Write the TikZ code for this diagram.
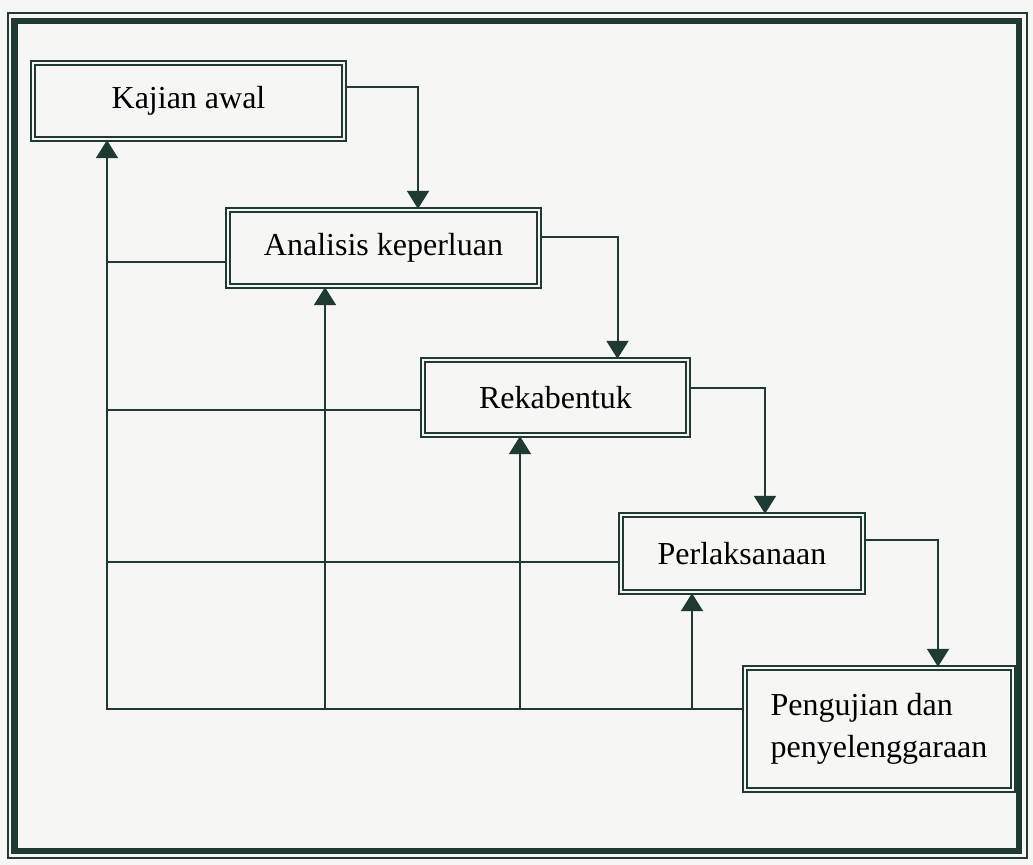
\documentclass[tikz,border=0pt]{standalone}
\usepackage{fontspec}
\setmainfont{Liberation Serif}
\usepackage{tikz}
\usetikzlibrary{arrows.meta,positioning,calc}
\definecolor{LineDark}{HTML}{1E3A33}
\definecolor{PaperBg}{HTML}{F6F6F4}
\tikzset{
  % Base box
  FB/.style={rectangle,draw=LineDark,line width=1.2pt,
             double=PaperBg,double distance=0.9pt,
             text centered,align=center,inner sep=4pt,
             font=\fontsize{16}{21}\selectfont},
  % Arrow
  arr/.style={-{Triangle[length=9pt,width=11pt]},line width=1pt,draw=LineDark},
  % Plain line
  ln/.style={line width=1pt,draw=LineDark}
}

\begin{document}
\begin{tikzpicture}[x=0.5pt,y=-0.5pt]
  \useasboundingbox[fill=PaperBg] (0,0) rectangle (1033,865);
  % frame
  \draw[LineDark,line width=0.7pt] (8,13) rectangle (1027,858);
  \draw[LineDark,line width=3.2pt] (14.5,21) rectangle (1019,851);
  % phases
  \node[FB,minimum width=155.5pt,minimum height=38pt] (kajian)   at (188.5,101)  {Kajian awal};
  \node[FB,minimum width=155.5pt,minimum height=38pt] (analisis) at (383.5,248)  {Analisis keperluan};
  \node[FB,minimum width=132.5pt,minimum height=37.5pt] (reka)   at (555.5,397.5) {Rekabentuk};
  \node[FB,minimum width=121pt,minimum height=38.5pt] (laksana)  at (742,553.5)  {Perlaksanaan};
  \node[FB,minimum width=134pt,minimum height=61pt,align=left] (uji) at (879,729)
       {Pengujian dan\\penyelenggaraan};
  % forward flow
  \draw[arr] ([yshift=7pt]kajian.east)    -| ([xshift=17.25pt]analisis.north);
  \draw[arr] ([yshift=5.5pt]analisis.east) -| ([xshift=31pt]reka.north);
  \draw[arr] ([yshift=4.75pt]reka.east)    -| ([xshift=11.5pt]laksana.north);
  \draw[arr] ([yshift=6.75pt]laksana.east) -| ([xshift=29.5pt]uji.north);
  % feedback
  \coordinate (trunk) at ([xshift=-40.75pt]kajian.south);
  \coordinate (base)  at ([yshift=10pt]uji.west);
  \coordinate (fa) at ([yshift=-7pt]analisis.west);
  \coordinate (fr) at ([yshift=-6.25pt]reka.west);
  \coordinate (fl) at ([yshift=-4.25pt]laksana.west);
  \coordinate (ua) at ([xshift=-29.25pt]analisis.south);
  \coordinate (ur) at ([xshift=-17.75pt]reka.south);
  \coordinate (ul) at ([xshift=-25pt]laksana.south);
  \draw[arr] (base) -| (trunk);
  \draw[ln] (fa) -- (fa -| trunk);
  \draw[ln] (fr) -- (fr -| trunk);
  \draw[ln] (fl) -- (fl -| trunk);
  \draw[arr] (base -| ua) -- (ua);
  \draw[arr] (base -| ur) -- (ur);
  \draw[arr] (base -| ul) -- (ul);
\end{tikzpicture}
\end{document}
